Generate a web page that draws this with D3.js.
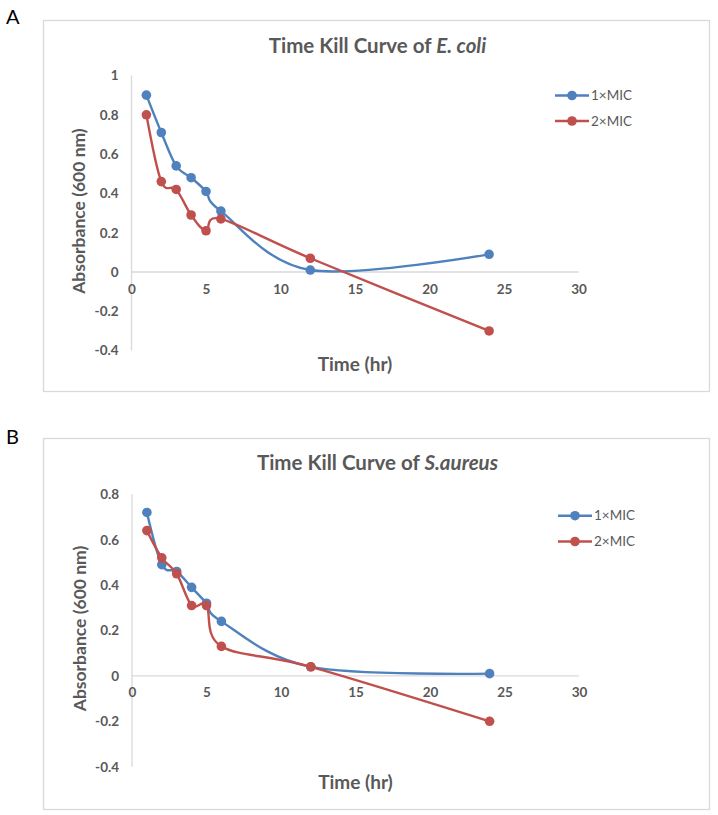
<!DOCTYPE html>
<html>
<head>
<meta charset="utf-8">
<script src="https://cdn.jsdelivr.net/npm/d3@7"></script>
<style>
  html, body { margin: 0; padding: 0; background: #fff; }
  svg { display: block; }
  text { font-family: Lato, "Open Sans", "Liberation Sans", sans-serif; }
</style>
</head>
<body>
<script>
// ---------------- DATA ----------------
const timeHours = [1, 2, 3, 4, 5, 6, 12, 24];
const seriesNames = ["1\u00d7MIC", "2\u00d7MIC"];
const ecoli1xMIC = [0.90, 0.71, 0.54, 0.48, 0.41, 0.31, 0.01, 0.09];
const ecoli2xMIC = [0.80, 0.46, 0.42, 0.29, 0.21, 0.27, 0.07, -0.30];
const saureus1xMIC = [0.72, 0.49, 0.46, 0.39, 0.32, 0.24, 0.04, 0.01];
const saureus2xMIC = [0.64, 0.52, 0.45, 0.31, 0.31, 0.13, 0.04, -0.20];
const xTickValues = [0, 5, 10, 15, 20, 25, 30];
const yTickValuesA = [1, 0.8, 0.6, 0.4, 0.2, 0, -0.2, -0.4];
const yTickValuesB = [0.8, 0.6, 0.4, 0.2, 0, -0.2, -0.4];
const xTitle = "Time (hr)";
const yTitle = "Absorbance (600 nm)";

// ---------------- LAYOUT ----------------
const W = 718, H = 815;
const colors = ["#4F81BD", "#C0504D"];
const grey = "#595959";
const axisGrey = "#d9d9d9";

const svg = d3.select("body").append("svg").attr("width", W).attr("height", H);

const panels = [
  {
    letter: "A", letterY: 24,
    frame: { x: 43.5, y: 20.5, w: 666, h: 371 },
    titleMain: "Time Kill Curve of ", titleItalic: "E. coli", titleY: 53,
    xRange: [131.5, 578.5], yDomain: [-0.4, 1], yRange: [350.6, 75.5],
    yTicks: yTickValuesA,
    s1: ecoli1xMIC, s2: ecoli2xMIC,
    legendY: [95.5, 121], legendX: 555,
    xTitleY: 371, yTitleX: 79
  },
  {
    letter: "B", letterY: 444,
    frame: { x: 43.5, y: 438.5, w: 666, h: 371 },
    titleMain: "Time Kill Curve of ", titleItalic: "S.aureus", titleY: 470,
    xRange: [132, 579], yDomain: [-0.4, 0.8], yRange: [766.7, 494.3],
    yTicks: yTickValuesB,
    s1: saureus1xMIC, s2: saureus2xMIC,
    legendY: [515.7, 541.5], legendX: 558,
    xTitleY: 789, yTitleX: 80
  }
];

panels.forEach(p => {
  const g = svg.append("g");

  // panel letter
  g.append("text").attr("x", 6).attr("y", p.letterY)
    .attr("font-family", "'Liberation Sans', Arial, sans-serif")
    .attr("font-size", 20).attr("fill", "#000").text(p.letter);

  // frame
  g.append("rect").attr("x", p.frame.x).attr("y", p.frame.y)
    .attr("width", p.frame.w).attr("height", p.frame.h)
    .attr("fill", "#fff").attr("stroke", axisGrey).attr("stroke-width", 1.3);

  const x = d3.scaleLinear().domain([0, 30]).range(p.xRange);
  const y = d3.scaleLinear().domain(p.yDomain).range(p.yRange);

  // title
  const t = g.append("text").attr("x", p.frame.x + p.frame.w / 2 + 1)
    .attr("y", p.titleY).attr("text-anchor", "middle")
    .attr("font-size", 20.5).attr("font-weight", "bold").attr("fill", grey);
  t.append("tspan").text(p.titleMain);
  t.append("tspan").attr("font-style", "italic").text(p.titleItalic);

  // axis lines
  g.append("line").attr("x1", x(0)).attr("x2", x(0))
    .attr("y1", y(p.yDomain[1])).attr("y2", y(p.yDomain[0]))
    .attr("stroke", axisGrey).attr("stroke-width", 1.3);
  g.append("line").attr("x1", x(0)).attr("x2", x(30))
    .attr("y1", y(0)).attr("y2", y(0))
    .attr("stroke", axisGrey).attr("stroke-width", 1.3);

  const fmt = v => String(+v.toFixed(1));

  // y tick labels
  const ya = g.append("g").attr("transform", `translate(${x(0)},0)`)
    .call(d3.axisLeft(y).tickValues(p.yTicks).tickSize(0).tickPadding(13).tickFormat(fmt));
  ya.select(".domain").remove();
  ya.selectAll("text").attr("font-family", "Lato, 'Open Sans', sans-serif")
    .attr("font-size", 13.5).attr("font-weight", "bold").attr("fill", grey);

  // x tick labels
  const xa = g.append("g").attr("transform", `translate(0,${y(0)})`)
    .call(d3.axisBottom(x).tickValues(xTickValues).tickSize(0).tickPadding(12).tickFormat(d3.format("d")));
  xa.select(".domain").remove();
  xa.selectAll("text").attr("font-family", "Lato, 'Open Sans', sans-serif")
    .attr("font-size", 13.5).attr("font-weight", "bold").attr("fill", grey);

  // axis titles
  g.append("text").attr("x", (p.xRange[0] + p.xRange[1]) / 2).attr("y", p.xTitleY)
    .attr("text-anchor", "middle").attr("font-size", 19).attr("font-weight", "bold")
    .attr("fill", grey).text(xTitle);
  const yc = (p.yRange[0] + p.yRange[1]) / 2 - 2;
  g.append("text").attr("transform", `translate(${p.yTitleX},${yc}) rotate(-90)`)
    .attr("text-anchor", "middle").attr("dy", "0.35em")
    .attr("font-size", 17.5).attr("font-weight", "bold")
    .attr("fill", grey).text(yTitle);

  // series
  const line = d3.line().x(d => x(d[0])).y(d => y(d[1])).curve(d3.curveCardinal.tension(0));
  [p.s1, p.s2].forEach((vals, i) => {
    const pts = timeHours.map((tm, k) => [tm, vals[k]]);
    g.append("path").datum(pts).attr("d", line)
      .attr("fill", "none").attr("stroke", colors[i]).attr("stroke-width", 2.4);
    g.selectAll(null).data(pts).enter().append("circle")
      .attr("cx", d => x(d[0])).attr("cy", d => y(d[1])).attr("r", 4.8)
      .attr("fill", colors[i]);
  });

  // legend
  seriesNames.forEach((name, i) => {
    const ly = p.legendY[i];
    g.append("line").attr("x1", p.legendX).attr("x2", p.legendX + 34)
      .attr("y1", ly).attr("y2", ly).attr("stroke", colors[i]).attr("stroke-width", 2.4);
    g.append("circle").attr("cx", p.legendX + 17).attr("cy", ly).attr("r", 4.8).attr("fill", colors[i]);
    g.append("text").attr("x", p.legendX + 36).attr("y", ly).attr("dy", "0.35em")
      .attr("font-size", 13.5).attr("fill", grey).text(name);
  });
});
</script>
</body>
</html>
